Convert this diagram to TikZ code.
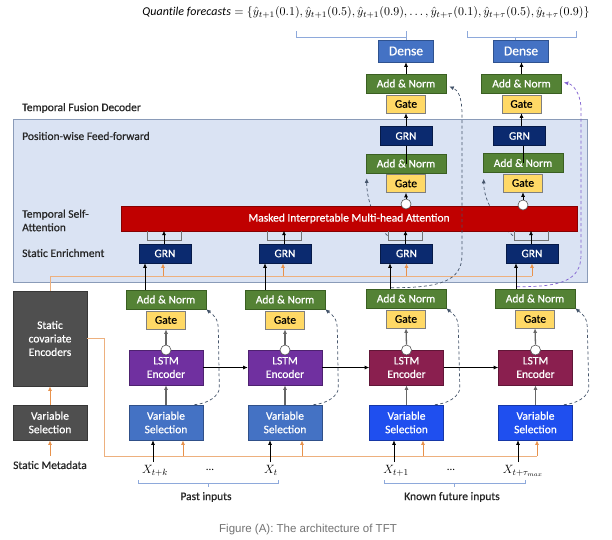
\documentclass[tikz,border=0pt]{standalone}
\usepackage{fontspec}
\setmainfont{Carlito}
\newfontfamily\boxfont{Carlito}[FakeBold=0.6]
\newfontfamily\capfont{Liberation Sans}
\usepackage{amsmath}
\usepackage{graphicx}
\usetikzlibrary{arrows.meta,calc}
\definecolor{panelf}{HTML}{DAE3F3}
\definecolor{panell}{HTML}{8A9BB8}
\definecolor{ang}{HTML}{548235}
\definecolor{angd}{HTML}{3A5F22}
\definecolor{gatey}{HTML}{FFD966}
\definecolor{gatee}{HTML}{7F7F7F}
\definecolor{grnb}{HTML}{0B2A6F}
\definecolor{grnd}{HTML}{061A48}
\definecolor{densb}{HTML}{4472C4}
\definecolor{densd}{HTML}{2F528F}
\definecolor{lstmp}{HTML}{7030A0}
\definecolor{lstmm}{HTML}{8A1F4F}
\definecolor{vsa}{HTML}{4472C4}
\definecolor{vsb}{HTML}{1F4FEF}
\definecolor{redbar}{HTML}{C00000}
\definecolor{dgray}{HTML}{4F4F4F}
\definecolor{orng}{HTML}{EDB07E}
\definecolor{orngd}{HTML}{E8924C}
\definecolor{dashc}{HTML}{44546A}
\definecolor{purp}{HTML}{8060D0}
\definecolor{brkc}{HTML}{8EA9DB}
\begin{document}
\begin{tikzpicture}[x=1pt,y=-1pt,
 bx/.style={draw, inner sep=0pt, text=white, align=center, font=\boxfont\fontsize{11.5}{13.5}\selectfont, line width=0.6pt},
 an/.style={bx, fill=ang, draw=angd, minimum width=80pt, minimum height=19pt},
 gt/.style={bx, fill=gatey, draw=gatee, text=black, minimum width=39pt, minimum height=18pt},
 grn/.style={bx, fill=grnb, draw=grnd, minimum width=52pt, minimum height=19pt},
 dense/.style={bx, fill=densb, draw=densd, minimum width=55pt, minimum height=22pt, font=\boxfont\fontsize{13.5}{15}\selectfont},
 tall/.style={bx, fill=#1, draw=#1!70!black, minimum width=74pt, minimum height=35pt},
 sbox/.style={bx, fill=dgray, draw=dgray!70!black, minimum width=74pt},
 circ/.style={circle, draw=gray!70!black, fill=white, minimum size=10pt, inner sep=0pt, line width=0.6pt},
 lbl/.style={inner sep=0pt, text=black!85, font=\boxfont\fontsize{11.5}{13.5}\selectfont, align=left},
 tip/.style={-{Latex[length=4.5pt,width=4pt]}},
 arr/.style={tip, black, line width=0.7pt},
 garr/.style={tip, black!60, line width=1.3pt},
 oline/.style={orng, line width=0.9pt},
 oarr/.style={tip, orngd, line width=0.9pt},
 dsh/.style={tip, dashc, line width=0.7pt, dash pattern=on 3pt off 2.5pt},
 dshp/.style={dsh, purp},
 brk/.style={brkc, line width=0.8pt},
 brkt/.style={black!55, line width=0.7pt}
]
\useasboundingbox (0,0) rectangle (612,539);
\fill[white] (0,0) rectangle (612,539);

% formula and brackets
\node[inner sep=0pt] (formula) at (366,13) {\resizebox{447pt}{!}{$\mathit{Quantile\ forecasts}=\{\hat{y}_{t+1}(0.1),\hat{y}_{t+1}(0.5),\hat{y}_{t+1}(0.9),\ldots,\hat{y}_{t+\tau}(0.1),\hat{y}_{t+\tau}(0.5),\hat{y}_{t+\tau}(0.9)\}$}};

% top output nodes
\node[dense] (d1) at (406,51) {Dense};
\node[dense] (d2) at (521,51) {Dense};
\node[an] (ant1) at (406,83.5) {Add \& Norm};
\node[gt] (gt1) at (406,104) {Gate};
\node[an] (ant2) at (521.5,83.5) {Add \& Norm};
\node[gt] (gt2) at (521.5,104) {Gate};

\draw[brk] (296,31) -- (296,37) -- (406,37);
\draw[brk] (406,31) -- (d1.north);
\draw[brk] (467,31) -- (467,37) -- (576,37) -- (576,31);
\draw[brk] (515,37) -- ($(d2.north)+(-6,0)$);

% decoder panel
\draw[fill=panelf, draw=panell, line width=0.8pt] (13,119) rectangle (587,282);
\node[lbl, anchor=west] (lTFD) at (22,108) {Temporal Fusion Decoder};
\node[lbl, anchor=west] (lPFF) at (22,136) {Position-wise Feed-forward};
\node[lbl, anchor=west] (lTSA) at (22,220.5) {Temporal Self-\\Attention};
\node[lbl, anchor=west] (lSE) at (22,253) {Static Enrichment};

% upper column nodes
\node[grn] (gu1) at (406,136) {GRN};
\node[an] (am1) at (406,163.5) {Add \& Norm};
\node[gt] (gm1) at (406,183.5) {Gate};
\node[grn] (gu2) at (519.5,136) {GRN};
\node[an] (am2) at (523,163) {Add \& Norm};
\node[gt] (gm2) at (523,183) {Gate};

% static enrichment GRNs
\node[grn] (g1) at (165,253.5) {GRN};
\node[grn] (g2) at (285,253.5) {GRN};
\node[grn] (g3) at (406.5,253.5) {GRN};
\node[grn] (g4) at (532,253.5) {GRN};

% residual dashed links behind attention bar
\draw[dsh] ($(g3.north)+(-19,-8)$) .. controls +(-10,-10) and +(0,25) .. ($(am1.south west)+(1,5)$);
\draw[dsh] ($(g4.north)+(-19,-8)$) .. controls +(-12,-10) and +(0,25) .. ($(am2.south west)+(1,6)$);

% attention bar
\node[bx, fill=redbar, draw=redbar!70!black, minimum width=456pt, minimum height=25pt] (mha) at (349,218.5) {Masked Interpretable Multi-head Attention};

\foreach \g in {g1,g2,g3,g4}{
  \draw[brkt] ($(\g.north)+(-18,-13)$) -- ++(0,10) -- ++(34,0) -- ++(0,-10);
  \draw[arr] ($(\g.north)+(-1,0)$) -- ($(\g.north)+(-1,-13)$);
}

\node[circ] (c1) at (406,204) {};
\node[circ] (c2) at (523,205) {};
\draw[arr] (c1.north) -- (gm1.south);
\draw[arr] (c2.north) -- (gm2.south);
\draw[black, line width=0.7pt] (am1.center) -- (am1.center |- gu1.south);
\draw[black, line width=0.7pt] (am2.center) -- (am2.center |- gu2.south);
\draw[arr] (gu1.north) -- (gt1.south);
\draw[arr] (gu2.north -| gt2.south) -- (gt2.south);
\draw[arr] (ant1.north) -- (d1.south);
\draw[arr] (ant2.north) -- (ant2.north |- d2.south);

% static covariate side
\node[sbox, minimum height=95pt] (sce) at (50,338.5) {Static\\covariate\\Encoders};
\node[sbox, minimum height=35pt] (vsl) at (50,422.5) {Variable\\Selection};
\node[lbl] (smd) at (50,465) {Static Metadata};
\draw[oarr] ($(smd.north)+(0,-5)$) -- (vsl.south);
\draw[oarr] (vsl.north) -- (sce.south);

% orange context lines
\coordinate (otop) at (50,276);
\draw[oline] (sce.north) -- (otop) -- (otop -| g4.south);
\foreach \g/\dx in {g1/-2,g2/-2,g3/0,g4/0}{
  \draw[oarr] ($(otop -| \g.south)+(\dx,0)$) -- ($(\g.south)+(\dx,0)$);
}

% lower columns
\node[an] (al1) at (166,299.5) {Add \& Norm};
\node[an] (al2) at (285,299.5) {Add \& Norm};
\node[an] (al3) at (406,298.5) {Add \& Norm};
\node[an] (al4) at (535,298.5) {Add \& Norm};
\node[gt] (gl1) at (166,320) {Gate};
\node[gt] (gl2) at (285,320) {Gate};
\node[gt] (gl3) at (406,319) {Gate};
\node[gt] (gl4) at (535,319) {Gate};
\node[tall=lstmp] (ls1) at (166,367.5) {LSTM\\Encoder};
\node[tall=lstmp] (ls2) at (285,367.5) {LSTM\\Encoder};
\node[tall=lstmm] (ls3) at (406.5,367.5) {LSTM\\Encoder};
\node[tall=lstmm] (ls4) at (535.5,367.5) {LSTM\\Encoder};
\node[tall=vsa] (vs1) at (166,422.5) {Variable\\Selection};
\node[tall=vsa] (vs2) at (285,422.5) {Variable\\Selection};
\node[tall=vsb] (vs3) at (406.5,422.5) {Variable\\Selection};
\node[tall=vsb] (vs4) at (535.5,422.5) {Variable\\Selection};
\node[circ] (cl1) at (166,350) {};
\node[circ] (cl2) at (285,350) {};
\node[circ] (cl3) at (406.5,350) {};
\node[circ] (cl4) at (535.5,350) {};

\foreach \i in {1,2,3,4}{
  \draw[garr] (vs\i.north) -- (ls\i.south);
  \draw[garr] (cl\i.north) -- (gl\i.south);
}
\draw[arr] (ls1.east) -- (ls2.west);
\draw[arr] (ls2.east) -- (ls3.west);
\draw[arr] (ls3.east) -- (ls4.west);

% add&norm to GRN
\coordinate (k1) at (145,263);
\coordinate (k2) at (265,263);
\coordinate (k3) at (390,263);
\coordinate (k4) at (516,263);
\foreach \i in {1,2,3,4}{
  \draw[arr] (k\i |- al\i.north) -- (k\i |- g\i.south);
}

% lower skip connections
\foreach \i in {1,2,3,4}{
  \draw[dsh] ($(vs\i.north east)+(-9,0)$) .. controls +(14,-1) and +(0,8) .. ($(vs\i.north east)+(16,-17)$) -- ($(al\i.south east)+(12,20)$) .. controls +(0,-12) and +(6,5) .. (al\i.south east);
}

% upper skip connections
\draw[dsh] ($(al3.north)+(-15,-1)$) .. controls (440,288) and (462,281) .. (462,255) -- (462,115) .. controls (462,97) and (458,90) .. ($(ant1.east)+(3,3)$);
\draw[dshp] ($(al4.north)+(-18,-2)$) .. controls (560,287) and (581,281) .. (581,255) -- (581,110) .. controls (581,92) and (572,84) .. ($(ant2.east)+(2,-1)$);

% bottom orange line and inputs
\coordinate (obot) at (104,456);
\draw[oline] (sce.east) -| (obot) -- (537,456);
\coordinate (oa1) at (183,456);
\coordinate (oa2) at (302,456);
\coordinate (oa3) at (423,456);
\coordinate (oa4) at (537,456);
\foreach \i in {1,2,3,4}{
  \draw[oarr] (oa\i) -- (oa\i |- vs\i.south);
}

\node[inner sep=0pt, font=\fontsize{13}{15}\selectfont] (x1) at (155,471) {$X_{t+k}$};
\node[inner sep=0pt, font=\fontsize{13}{15}\selectfont] (x2) at (271,470) {$X_{t}$};
\node[inner sep=0pt, font=\fontsize{13}{15}\selectfont] (x3) at (396,471) {$X_{t+1}$};
\node[inner sep=0pt, font=\fontsize{13}{15}\selectfont] (x4) at (523,471) {$X_{t+\tau_{max}}$};
\node[inner sep=0pt, font=\fontsize{11}{13}\selectfont] (dots1) at (210,470) {...};
\node[inner sep=0pt, font=\fontsize{11}{13}\selectfont] (dots2) at (451,470) {...};
\coordinate (ia1) at (153,462);
\coordinate (ia2) at (270,462);
\coordinate (ia3) at (394,462);
\coordinate (ia4) at (518,462);
\foreach \i in {1,2,3,4}{
  \draw[arr] (ia\i) -- (ia\i |- vs\i.south);
}

% input braces
\draw[brk] (138,480) -- (138,483) -- (278,483) -- (278,480);
\draw[brk] (208,483) -- (208,487);
\draw[brk] (384,480) -- (384,483) -- (525,483) -- (525,480);
\draw[brk] (454,483) -- (454,487);
\node[lbl] (past) at (206,497) {Past inputs};
\node[lbl] (fut) at (452,497) {Known future inputs};

\node[inner sep=0pt, text=black!55, font=\capfont\fontsize{11.5}{13}\selectfont] (cap) at (308,530) {Figure (A): The architecture of TFT};
\end{tikzpicture}
\end{document}
